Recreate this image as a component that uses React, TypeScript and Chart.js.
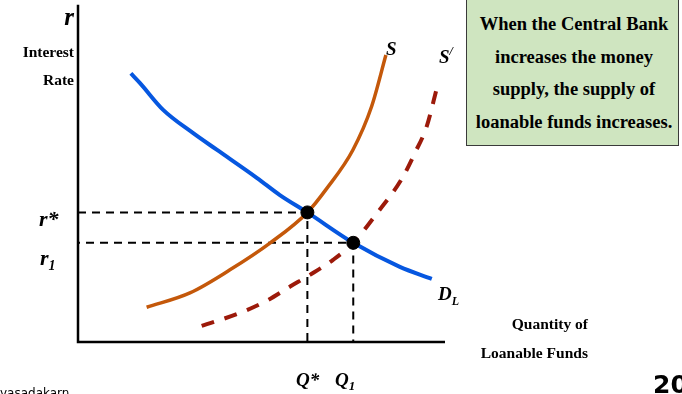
import React, { useEffect, useRef } from "react";
import { Chart, registerables } from "chart.js";

Chart.register(...registerables);

// Quantity of loanable funds (x) and interest rate (y), in chart units 0..100
const demandQ = [14.4, 16.9, 23.2, 31.3, 37.9, 48.8, 55.0, 62.5, 75.0, 87.7, 96.4];
const demandR = [80.4, 77.5, 69.5, 62.6, 57.5, 49.1, 44.0, 38.8, 29.7, 22.5, 18.9];

const supplyQ = [18.7, 30.5, 41.4, 52.3, 62.5, 67.8, 74.9, 80.0, 83.9];
const supplyR = [10.4, 14.7, 21.6, 29.6, 38.8, 46.0, 57.5, 70.5, 85.9];

const supply2Q = [33.7, 44.1, 51.5, 57.8, 63.2, 69.5, 75.0, 81.5, 88.2, 91.8, 95.0, 97.8];
const supply2R = [4.8, 8.7, 12.4, 16.6, 20.1, 24.6, 29.7, 38.6, 48.8, 56.6, 64.5, 76.1];

const eqQ = [62.5, 75.0]; // Q*, Q1
const eqR = [38.8, 29.7]; // r*, r1

const boxLines = [
  "When the Central Bank",
  "increases the money",
  "supply, the supply of",
  "loanable funds increases.",
];

const pts = (xs: number[], ys: number[]) => xs.map((x, i) => ({ x, y: ys[i] }));

const SERIF = "'Liberation Serif', 'Times New Roman', serif";

type LabelProps = {
  x: number;
  baseline: number;
  size: number;
  align?: "left" | "right" | "center";
  italic?: boolean;
  bold?: boolean;
  font?: string;
  children: React.ReactNode;
  asc?: number;
};

function Label({ x, baseline, size, align = "left", italic, bold = true, font = SERIF, children, asc = 0.8375 }: LabelProps) {
  const style: React.CSSProperties = {
    position: "absolute",
    top: baseline - asc * size,
    fontFamily: font,
    fontSize: size,
    lineHeight: `${size}px`,
    fontWeight: bold ? "bold" : "normal",
    fontStyle: italic ? "italic" : "normal",
    whiteSpace: "nowrap",
    color: "#000",
  };
  if (align === "left") style.left = x;
  else if (align === "right") style.right = 682 - x;
  else {
    style.left = x;
    style.transform = "translateX(-50%)";
  }
  return <div style={style}>{children}</div>;
}

export default function App() {
  const ref = useRef<HTMLCanvasElement | null>(null);

  useEffect(() => {
    document.body.style.margin = "0";
    const ctx = ref.current!;
    const chart = new Chart(ctx, {
      type: "scatter",
      data: {
        datasets: [
          {
            label: "equilibria",
            data: pts(eqQ, eqR),
            showLine: false,
            pointRadius: 6.5,
            pointBackgroundColor: "#000",
            pointBorderColor: "#000",
            order: 0,
            clip: false,
          } as any,
          {
            label: "D_L",
            data: pts(demandQ, demandR),
            showLine: true,
            borderColor: "#0657e0",
            borderWidth: 4,
            pointRadius: 0,
            cubicInterpolationMode: "monotone",
            order: 1,
            clip: false,
          },
          {
            label: "S",
            data: pts(supplyQ, supplyR),
            showLine: true,
            borderColor: "#c4580a",
            borderWidth: 3.5,
            pointRadius: 0,
            cubicInterpolationMode: "monotone",
            order: 2,
            clip: false,
          },
          {
            label: "S'",
            data: pts(supply2Q, supply2R),
            showLine: true,
            borderColor: "#9c1a0a",
            borderWidth: 4,
            borderDash: [13, 11],
            pointRadius: 0,
            cubicInterpolationMode: "monotone",
            order: 3,
            clip: false,
          },
          {
            label: "r* guide",
            data: [
              { x: 0, y: eqR[0] },
              { x: eqQ[0], y: eqR[0] },
              { x: eqQ[0], y: 0 },
            ],
            showLine: true,
            borderColor: "#000",
            borderWidth: 2,
            borderDash: [8, 6],
            pointRadius: 0,
            order: 4,
            clip: false,
          },
          {
            label: "r1 guide",
            data: [
              { x: 0, y: eqR[1] },
              { x: eqQ[1], y: eqR[1] },
              { x: eqQ[1], y: 0 },
            ],
            showLine: true,
            borderColor: "#000",
            borderWidth: 2,
            borderDash: [8, 6],
            borderDashOffset: 6,
            pointRadius: 0,
            order: 4,
            clip: false,
          },
          {
            label: "axes",
            data: [
              { x: 0, y: 101 },
              { x: 0, y: 0 },
              { x: 100, y: 0 },
            ],
            showLine: true,
            borderColor: "#000",
            borderWidth: 2.5,
            pointRadius: 0,
            order: 5,
            clip: false,
          },
        ],
      },
      options: {
        animation: false,
        responsive: false,
        events: [],
        layout: { padding: { left: 78, right: 237, top: 8, bottom: 52 } },
        plugins: { legend: { display: false }, tooltip: { enabled: false } },
        scales: {
          x: { type: "linear", min: 0, max: 100, display: false },
          y: { type: "linear", min: 0, max: 100, display: false },
        },
      },
    });
    return () => chart.destroy();
  }, []);

  return (
    <div style={{ position: "fixed", left: 0, top: 0, width: 682, height: 394, overflow: "hidden", background: "#fff" }}>
      <canvas ref={ref} width={682} height={394} style={{ position: "absolute", left: 0, top: 0, width: 682, height: 394 }} />

      {/* y-axis labels */}
      <Label x={74} baseline={25} size={25} align="right" italic>r</Label>
      <Label x={74} baseline={57} size={15.5} align="right">Interest</Label>
      <Label x={74} baseline={85} size={15.5} align="right">Rate</Label>
      <Label x={39} baseline={226} size={22} italic>r*</Label>
      <Label x={40} baseline={265} size={22} italic>
        r<span style={{ fontSize: 14, position: "relative", top: 5 }}>1</span>
      </Label>

      {/* x-axis labels */}
      <Label x={296} baseline={386} size={19} italic>Q*</Label>
      <Label x={335} baseline={386} size={19} italic>
        Q<span style={{ fontSize: 13, position: "relative", top: 4 }}>1</span>
      </Label>
      <Label x={588} baseline={329} size={15.5} align="right">Quantity of</Label>
      <Label x={588} baseline={358} size={15.5} align="right">Loanable Funds</Label>

      {/* curve labels */}
      <Label x={386} baseline={55} size={19} italic>S</Label>
      <Label x={439} baseline={63} size={19} italic>
        S<span style={{ fontSize: 12, position: "relative", top: -8 }}>/</span>
      </Label>
      <Label x={438} baseline={300} size={19} italic>
        D<span style={{ fontSize: 12, position: "relative", top: 5 }}>L</span>
      </Label>

      {/* green note box */}
      <div
        style={{
          position: "absolute",
          left: 466,
          top: -2,
          width: 211,
          height: 146,
          background: "#cfe5c0",
          border: "1.5px solid #3a3a3a",
        }}
      />
      {boxLines.map((t, i) => (
        <Label key={i} x={574} baseline={[30, 63, 95, 128][i]} size={18.5} align="center">
          {t}
        </Label>
      ))}

      {/* footer fragments */}
      <Label x={0} baseline={397} size={12} bold={false} font="'DejaVu Sans', sans-serif" asc={0.87}>
        vasadakarn
      </Label>
      <Label x={653} baseline={394} size={25} font="'DejaVu Sans', sans-serif" asc={0.87}>
        20
      </Label>
    </div>
  );
}
